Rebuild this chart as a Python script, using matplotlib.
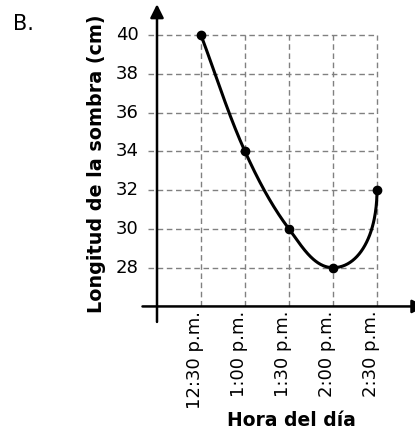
import numpy as np
import matplotlib as mpl
mpl.use('Agg')
import matplotlib.pyplot as plt

# data
horas = ['12:30 p.m.', '1:00 p.m.', '1:30 p.m.', '2:00 p.m.', '2:30 p.m.']
longitud = [40, 34, 30, 28, 32]
y_ticks = [28, 30, 32, 34, 36, 38, 40]

plt.rcParams['font.family'] = 'DejaVu Sans'

fig = plt.figure(figsize=(4.15, 4.34), dpi=100)
ax = fig.add_axes([141.6 / 415, 114 / 434, 268.4 / 415, 310 / 434])
ax.set_xlim(-1.35, 4.75)
ax.set_ylim(25.3, 41.3)
ax.axis('off')

xs = np.arange(len(horas))

# dashed grid
ax.hlines(y_ticks, -1.2, xs[-1], colors='#808080', lw=1.0, linestyles=(0, (4, 2.6)))
ax.vlines(xs, 26, max(y_ticks), colors='#808080', lw=1.0, linestyles=(0, (4, 2.6)))

# axes with arrows
ax.annotate('', xy=(-1, 41.6), xytext=(-1, 25.2), annotation_clip=False,
            arrowprops=dict(arrowstyle='-|>', lw=1.8, color='black', mutation_scale=20,
                            shrinkA=0, shrinkB=0))
ax.annotate('', xy=(5.1, 26), xytext=(-1.33, 26), annotation_clip=False,
            arrowprops=dict(arrowstyle='-|>', lw=1.8, color='black', mutation_scale=20,
                            shrinkA=0, shrinkB=0))

# smooth curve through the points (chord-length hermite in pixel space)
pts = ax.transData.transform(np.column_stack([xs, longitud]))
n = len(pts)
d = np.hypot(*np.diff(pts, axis=0).T)
m = np.zeros_like(pts)
for i in range(1, n - 1):
    m[i] = (pts[i + 1] - pts[i - 1]) / (d[i - 1] + d[i])
m[0] = (pts[1] - pts[0]) / d[0]
# flat bottom at 2:00, vertical rise into 2:30
m[3] = [1.0, 0.0]
m[4] = [0.0, 1.0]

t = np.linspace(0, 1, 80)[:, None]
h00 = 2 * t**3 - 3 * t**2 + 1
h10 = t**3 - 2 * t**2 + t
h01 = -2 * t**3 + 3 * t**2
h11 = t**3 - t**2
curve = []
for i in range(n - 1):
    a = d[i]
    b = d[i]
    if i == n - 2:
        dx, dy = np.abs(pts[i + 1] - pts[i])
        a, b = 1.75 * dx, 1.75 * dy
    seg = h00 * pts[i] + h10 * m[i] * a + h01 * pts[i + 1] + h11 * m[i + 1] * b
    curve.append(seg)
curve = ax.transData.inverted().transform(np.vstack(curve))
ax.plot(curve[:, 0], curve[:, 1], color='black', lw=2.2, solid_capstyle='round')
ax.plot(xs, longitud, 'o', color='black', markersize=6)

# tick labels
for v in y_ticks:
    ax.annotate(str(v), xy=(-1.35, v), xytext=(-2, 0), textcoords='offset points',
                ha='right', va='center', fontsize=13, annotation_clip=False)
for x, lab in zip(xs, horas):
    ax.annotate(lab, xy=(x, 26), xytext=(-4, -3), textcoords='offset points',
                ha='center', va='top', rotation=90, fontsize=13, annotation_clip=False)

fig.text(97 / 415, 270 / 434, 'Longitud de la sombra (cm)', rotation=90,
         ha='center', va='center', fontsize=13.8, fontweight='bold')
fig.text(291 / 415, 13 / 434, 'Hora del día', ha='center', va='center',
         fontsize=13.5, fontweight='bold')
fig.text(13 / 415, 410 / 434, 'B.', ha='left', va='center', fontsize=15)

fig.savefig('out.png', dpi=100)
